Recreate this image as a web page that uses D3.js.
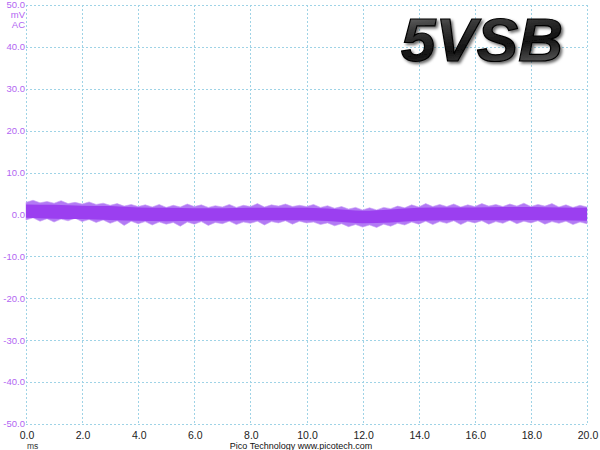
<!DOCTYPE html>
<html><head><meta charset="utf-8">
<script src="https://cdn.jsdelivr.net/npm/d3@7"></script>
<style>body{margin:0;background:#fff}svg{display:block}</style>
</head><body>
<svg id="c" width="600" height="450"></svg>
<script>
const xTicks = [0,2,4,6,8,10,12,14,16,18,20];
const yTicks = [50,40,30,20,10,0,-10,-20,-30,-40,-50];
// noise extremes (spike envelope), one value every 0.25 ms
const spikeStep = 0.25;
const spikeHigh = [2.9,3.4,2.8,3.1,2.7,3.3,2.6,2.9,2.5,3.0,
  2.4,2.7,2.2,2.6,2.0,2.4,1.9,2.3,1.8,2.4,
  1.7,2.2,1.8,2.5,1.9,2.3,1.7,2.1,1.8,2.4,
  1.7,2.2,1.9,2.6,1.8,2.3,2.0,2.5,1.9,2.2,
  1.9,2.4,1.7,2.1,1.5,1.9,1.3,1.7,1.1,1.6,
  1.1,1.7,1.4,2.0,1.6,2.3,1.8,2.6,1.9,2.4,
  1.9,2.5,1.8,2.3,1.9,2.6,2.0,2.4,1.9,2.5,
  2.0,2.7,1.9,2.4,2.0,2.6,1.8,2.3,1.7,2.2,1.8];
const spikeLow = [-1.3,-0.8,-1.6,-1.0,-1.8,-1.1,-1.5,-0.9,-1.7,-1.2,
  -1.9,-1.3,-2.1,-1.5,-2.6,-1.6,-2.2,-1.7,-2.5,-1.8,
  -2.3,-1.9,-2.8,-1.8,-2.3,-1.7,-2.6,-1.9,-2.2,-1.6,
  -2.4,-1.8,-2.1,-1.6,-2.5,-1.7,-2.0,-1.5,-2.3,-1.6,
  -2.0,-1.8,-2.4,-2.0,-2.7,-2.2,-2.9,-2.4,-3.0,-2.5,
  -3.1,-2.3,-2.8,-2.1,-2.5,-1.8,-2.3,-1.6,-2.4,-1.7,
  -2.1,-1.5,-2.4,-1.6,-2.0,-1.5,-2.3,-1.7,-2.1,-1.4,
  -2.2,-1.6,-2.0,-1.5,-2.3,-1.7,-2.1,-1.6,-2.4,-1.8,-2.2];
// dense core of the trace, one value every 1 ms
const coreStep = 1;
const coreHigh = [2.4,2.3,2.1,2.0,1.7,1.6,1.5,1.5,1.6,1.6,1.6,1.3,0.9,1.2,1.6,1.7,1.7,1.8,1.8,1.7,1.6];
const coreLow = [-0.8,-1.0,-1.1,-1.3,-1.5,-1.6,-1.5,-1.5,-1.4,-1.4,-1.4,-1.7,-2.1,-1.9,-1.5,-1.4,-1.3,-1.4,-1.3,-1.4,-1.5];

const svg = d3.select('#c');
const L=26, R=587, T=5, B=424;
const x = d3.scaleLinear().domain([0,20]).range([L,R]);
const y = d3.scaleLinear().domain([-50,50]).range([B,T]);
const grid = '#9fd3e6';
const font = 'Arial, Liberation Sans, sans-serif';

// grid
svg.append('g').selectAll('line').data(xTicks).join('line')
  .attr('x1',d=>Math.round(x(d))+0.5).attr('x2',d=>Math.round(x(d))+0.5).attr('y1',T).attr('y2',B)
  .attr('stroke',grid).attr('stroke-dasharray','2,2');
svg.append('g').selectAll('line').data(yTicks).join('line')
  .attr('y1',d=>Math.round(y(d))+0.5).attr('y2',d=>Math.round(y(d))+0.5).attr('x1',L).attr('x2',R)
  .attr('stroke',grid).attr('stroke-dasharray','2,2');

// trace: spikes (lighter) then core
const sp = spikeHigh.map((u,i)=>({t:i*spikeStep,u,l:spikeLow[i]}));
svg.append('path').datum(sp)
  .attr('d', d3.area().x(d=>x(d.t)).y0(d=>y(d.l)).y1(d=>y(d.u)))
  .attr('fill','#b27af4').attr('stroke','#c8a0f6').attr('stroke-width',0.6);
const co = coreHigh.map((u,i)=>({t:i*coreStep,u,l:coreLow[i]}));
svg.append('path').datum(co)
  .attr('d', d3.area().x(d=>x(d.t)).y0(d=>y(d.l)).y1(d=>y(d.u)).curve(d3.curveMonotoneX))
  .attr('fill','#9b3ff0');

// y labels
svg.append('g').selectAll('text').data(yTicks).join('text')
  .attr('x',25).attr('y',d=>y(d)).attr('dy','0.35em').attr('text-anchor','end')
  .attr('font-family',font).attr('font-size',9.5)
  .attr('fill','#b266f2').text(d=>d.toFixed(1));
svg.append('text').attr('x',25).attr('y',18).attr('text-anchor','end')
  .attr('font-family',font).attr('font-size',9.5).attr('fill','#b266f2').text('mV');
svg.append('text').attr('x',25).attr('y',28).attr('text-anchor','end')
  .attr('font-family',font).attr('font-size',9.5).attr('fill','#b266f2').text('AC');

// x labels
svg.append('g').selectAll('text').data(xTicks).join('text')
  .attr('x',d=>x(d)+1).attr('y',439).attr('text-anchor','middle')
  .attr('font-family',font).attr('font-size',10.5)
  .attr('fill','#222').text(d=>d.toFixed(1));
svg.append('text').attr('x',27).attr('y',449)
  .attr('font-family',font).attr('font-size',8.5).attr('fill','#333').text('ms');
svg.append('text').attr('x',301).attr('y',449).attr('text-anchor','middle')
  .attr('font-family',font).attr('font-size',9).attr('fill','#111')
  .text('Pico Technology  www.picotech.com');

// title
const defs = svg.append('defs');
const g = defs.append('linearGradient').attr('id','tg').attr('x1',0).attr('y1',0).attr('x2',0.3).attr('y2',1);
[['0%','#8a8a8a'],['35%','#3a3a3a'],['70%','#111'],['100%','#555']].forEach(([o,c])=>g.append('stop').attr('offset',o).attr('stop-color',c));
const f = defs.append('filter').attr('id','sh').attr('x','-10%').attr('y','-10%').attr('width','130%').attr('height','130%');
f.append('feDropShadow').attr('dx',2).attr('dy',2).attr('stdDeviation',1.5).attr('flood-color','#000').attr('flood-opacity',0.6);
svg.append('text').attr('x',401).attr('y',61)
  .attr('font-family',font).attr('font-size',62)
  .attr('font-weight','bold').attr('font-style','italic')
  .attr('fill','url(#tg)').attr('stroke','#000').attr('stroke-width',1.2)
  .attr('filter','url(#sh)').text('5VSB');
</script>
</body></html>
